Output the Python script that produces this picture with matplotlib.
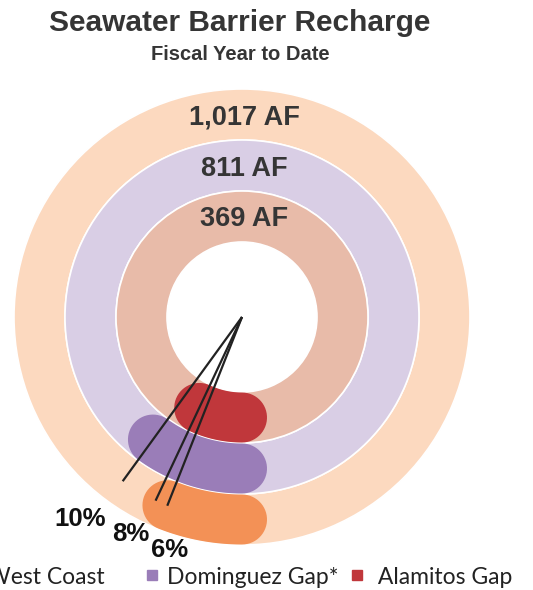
import numpy as np
import matplotlib.pyplot as plt
from matplotlib.patches import Wedge, Polygon
from matplotlib.lines import Line2D

# data (outer ring -> inner ring)
sites = ['West Coast     ', 'Dominguez Gap*', ' Alamitos Gap']
recharge_af = [1017, 811, 369]
pct_drawn = [6, 10, 7]          # sweep of each arc as drawn, % of full circle
pct_labels = ['6%', '10%', '8%']

ring_colors = ['#fcd9bf', '#d9cee5', '#e8bba9']
arc_colors = ['#f39156', '#9a7db8', '#c0373b']

# layout (pixel units, y down)
CX, CY = 242, 317
r_outer = [228, 177, 126]
band = 51
leader_r = 203
label_offsets = [(2, 44), (-43, 38), (-25, 33)]

TXT = '#353535'
BOLD = dict(family='Liberation Sans', weight='bold')


def pt(r, phi):
    # phi in degrees, clockwise from 6 o'clock
    a = np.radians(phi)
    return CX - r * np.sin(a), CY + r * np.cos(a)


def rounded_arc(r_mid, half, phi0, phi1, n=60):
    ph = np.radians(np.linspace(phi0, phi1, n))
    outer = np.column_stack([CX - (r_mid + half) * np.sin(ph), CY + (r_mid + half) * np.cos(ph)])
    inner = np.column_stack([CX - (r_mid - half) * np.sin(ph), CY + (r_mid - half) * np.cos(ph)])[::-1]
    caps = []
    for p, sgn in ((ph[-1], 1), (ph[0], -1)):
        c = np.array([CX - r_mid * np.sin(p), CY + r_mid * np.cos(p)])
        u = np.array([-np.sin(p), np.cos(p)])
        t = np.array([-np.cos(p), -np.sin(p)])
        a = np.linspace(0, np.pi, 30)[:, None]
        caps.append(c + sgn * half * (u * np.cos(a) + t * np.sin(a)))
    return np.vstack([outer, caps[0], inner, caps[1]])


fig = plt.figure(figsize=(5.33, 5.90), dpi=100)
ax = fig.add_axes([0, 0, 1, 1])
ax.set_xlim(0, 533)
ax.set_ylim(590, 0)
ax.axis('off')

for i in range(len(sites)):
    ax.add_patch(Wedge((CX, CY), r_outer[i], 0, 360, width=band,
                       facecolor=ring_colors[i], edgecolor='white', lw=1.2))
    ax.text(CX + 2, CY - (r_outer[i] - band / 2) + 3, f'{recharge_af[i]:,} AF',
            ha='center', va='center', fontsize=19.5, color=TXT, **BOLD)

for i in range(len(sites)):
    r_mid = r_outer[i] - band / 2
    ax.add_patch(Polygon(rounded_arc(r_mid, band / 2 - 0.5, 0, pct_drawn[i] * 3.6),
                         closed=True, facecolor=arc_colors[i], edgecolor='none'))

for i in range(len(sites)):
    x1, y1 = pt(leader_r, pct_drawn[i] * 3.6)
    ax.plot([CX, x1], [CY, y1], color='#222222', lw=1.6, solid_capstyle='butt')
    dx, dy = label_offsets[i]
    ax.text(x1 + dx, y1 + dy, pct_labels[i], ha='center', va='center',
            fontsize=18.5, color='#111111', **BOLD)

fig.text(240 / 533, 1 - 23 / 590, 'Seawater Barrier Recharge', ha='center', va='center',
         fontsize=21.5, color=TXT, **BOLD)
fig.text(240 / 533, 1 - 54 / 590, 'Fiscal Year to Date', ha='center', va='center',
         fontsize=14.5, color=TXT, **BOLD)

# legend runs off the left edge, as in the source image
handles = [Line2D([], [], marker='s', ls='', color=c, markersize=6.5) for c in arc_colors]
fig.legend(handles, sites, loc='center right', bbox_to_anchor=(512 / 533, 1 - 577 / 590),
           ncol=3, frameon=False, prop=dict(family='Lato', size=16.5), labelcolor='#222222',
           handlelength=0.6, handletextpad=0.35, columnspacing=0.5, borderpad=0,
           borderaxespad=0)

fig.savefig('out.png', dpi=100)
